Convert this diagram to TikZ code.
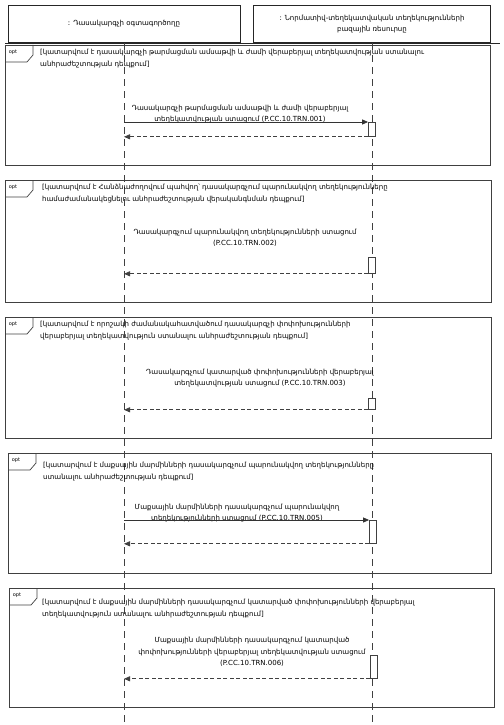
\documentclass[tikz,border=0pt]{standalone}
\usepackage{fontspec}
\setmainfont{DejaVu Sans}
\usetikzlibrary{calc, positioning, arrows.meta}
\newcommand{\txt}{\fontsize{7}{11.5}\selectfont}

\begin{document}
\begin{tikzpicture}[x=1pt, y=-1pt,
  hdr/.style={draw=black!85, line width=1pt, align=center, font=\txt},
  frm/.style={draw=black!75, line width=0.8pt, anchor=north west, inner sep=0pt},
  tagline/.style={draw=black!75, line width=0.7pt},
  tagtxt/.style={font=\fontsize{5}{6}\selectfont, inner sep=0pt},
  guard/.style={anchor=north west, align=left, font=\txt, inner sep=0pt},
  msg/.style={align=center, font=\txt, inner sep=0pt},
  lifeline/.style={draw=black!75, line width=0.8pt, dash pattern=on 7pt off 5pt},
  act/.style={draw=black!75, fill=white, line width=0.8pt, minimum width=7pt, inner sep=0pt},
  call/.style={-{Triangle[length=6pt,width=5pt]}, draw=black!80, line width=0.8pt},
  reply/.style={-{Triangle[length=6pt,width=5pt]}, draw=black!75, line width=0.8pt, dash pattern=on 4pt off 2.5pt}]
\useasboundingbox (0,0) rectangle (503,725);

% Lifeline heads
\node[hdr, minimum width=232, minimum height=37] (user) at (124,24) {: Դասակարգչի օգտագործողը};
\node[hdr, minimum width=237, minimum height=37] (nsi) at (372,24) {: Նորմատիվ-տեղեկատվական տեղեկությունների\\բազային ռեսուրսը};
\draw[black!85, line width=1pt] (5,44) -- (500,44);
\coordinate (userend) at (124,725);
\coordinate (nsiend) at (372,725);
\draw[lifeline] (user) -- (userend);
\draw[lifeline] (nsi) -- (nsiend);

% opt 1
\begin{scope}
\node[frm, minimum width=485, minimum height=120] (opt1) at (5,45) {};
\draw[tagline] (opt1.north west) ++(28,0) -- ++(0,10) -- ++(-6,7) -- ++(-22,0);
\node[tagtxt] (tag1) at (13,52) {opt};
\node[guard] (g1) at (40,49) {[կատարվում է դասակարգչի թարմացման ամսաթվի և ժամի վերաբերյալ տեղեկատվության ստանալու\\անհրաժեշտության դեպքում]};
\node[msg] (m1) at (240,114) {Դասակարգչի թարմացման ամսաթվի և ժամի վերաբերյալ\\տեղեկատվության ստացում (P.CC.10.TRN.001)};
\node[act, minimum height=14, anchor=north] (a1) at (372,122) {};
\coordinate (c1) at (124,122);
\draw[call] (c1) -- (c1 -| a1.west);
\draw[reply] (a1.south west) -- (user |- a1.south);
\end{scope}

% opt 2
\begin{scope}
\node[frm, minimum width=486, minimum height=122] (opt2) at (5,180) {};
\draw[tagline] (opt2.north west) ++(28,0) -- ++(0,10) -- ++(-6,7) -- ++(-22,0);
\node[tagtxt] (tag2) at (13,187) {opt};
\node[guard] (g2) at (42,184) {[կատարվում է Հանձնաժողովում պահվող՝ դասակարգչում պարունակվող տեղեկությունները\\համաժամանակեցնելու անհրաժեշտության վերականգնման դեպքում]};
\node[msg] (m2) at (245,238) {Դասակարգչում պարունակվող տեղեկությունների ստացում\\(P.CC.10.TRN.002)};
\node[act, minimum height=16, anchor=north] (a2) at (372,257) {};
\draw[reply] (a2.south west) -- (user |- a2.south);
\end{scope}

% opt 3
\begin{scope}
\node[frm, minimum width=486, minimum height=121] (opt3) at (5,317) {};
\draw[tagline] (opt3.north west) ++(28,0) -- ++(0,10) -- ++(-6,7) -- ++(-22,0);
\node[tagtxt] (tag3) at (13,324) {opt};
\node[guard] (g3) at (40,321) {[կատարվում է որոշակի ժամանակահատվածում դասակարգչի փոփոխությունների\\վերաբերյալ տեղեկատվություն ստանալու անհրաժեշտության դեպքում]};
\node[msg] (m3) at (260,378) {Դասակարգչում կատարված փոփոխությունների վերաբերյալ\\տեղեկատվության ստացում (P.CC.10.TRN.003)};
\node[act, minimum height=11, anchor=north] (a3) at (372,398) {};
\draw[reply] (a3.south west) -- (user |- a3.south);
\end{scope}

% opt 4
\begin{scope}
\node[frm, minimum width=483, minimum height=120] (opt4) at (8,453) {};
\draw[tagline] (opt4.north west) ++(28,0) -- ++(0,10) -- ++(-6,7) -- ++(-22,0);
\node[tagtxt] (tag4) at (16,460) {opt};
\node[guard] (g4) at (43,462) {[կատարվում է մաքսային մարմինների դասակարգչում պարունակվող տեղեկությունները\\ստանալու անհրաժեշտության դեպքում]};
\node[msg] (m4) at (237,513) {Մաքսային մարմինների դասակարգչում պարունակվող\\տեղեկությունների ստացում (P.CC.10.TRN.005)};
\node[act, minimum height=23, anchor=north] (a4) at (373,520) {};
\coordinate (c4) at (124,520);
\draw[call] (c4) -- (c4 -| a4.west);
\draw[reply] (a4.south west) -- (user |- a4.south);
\end{scope}

% opt 5
\begin{scope}
\node[frm, minimum width=485, minimum height=119] (opt5) at (9,588) {};
\draw[tagline] (opt5.north west) ++(28,0) -- ++(0,10) -- ++(-6,7) -- ++(-22,0);
\node[tagtxt] (tag5) at (17,595) {opt};
\node[guard] (g5) at (42,599) {[կատարվում է մաքսային մարմինների դասակարգչում կատարված փոփոխությունների վերաբերյալ\\տեղեկատվություն ստանալու անհրաժեշտության դեպքում]};
\node[msg] (m5) at (252,652) {Մաքսային մարմինների դասակարգչում կատարված\\փոփոխությունների վերաբերյալ տեղեկատվության ստացում\\(P.CC.10.TRN.006)};
\node[act, minimum height=23, anchor=north] (a5) at (374,655) {};
\draw[reply] (a5.south west) -- (user |- a5.south);
\end{scope}
\end{tikzpicture}
\end{document}
